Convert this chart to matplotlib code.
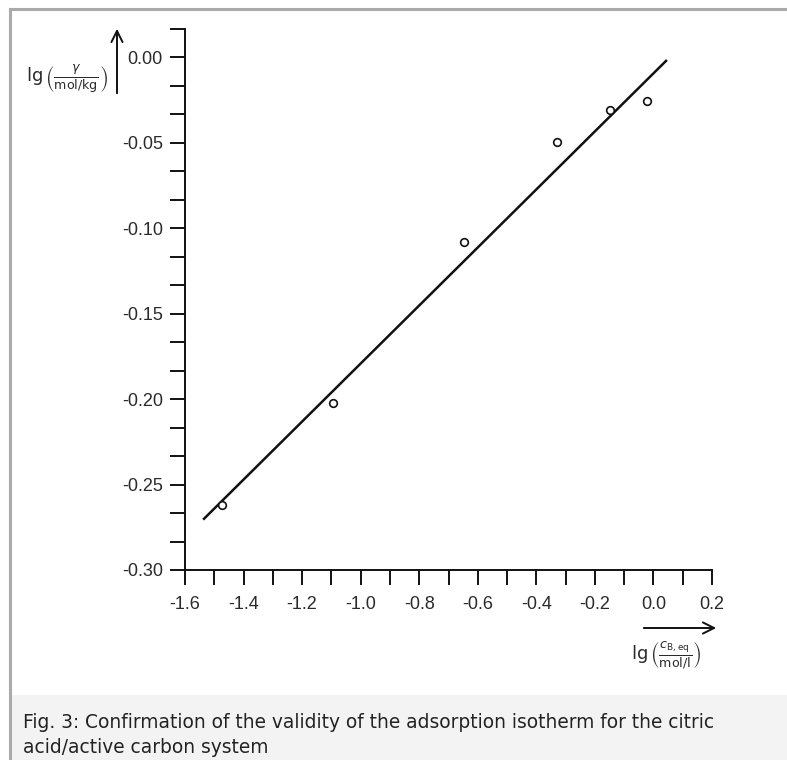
import numpy as np
import matplotlib.pyplot as plt
from matplotlib.patches import Rectangle, FancyArrowPatch
from matplotlib.lines import Line2D

# 数据
x_pts = [-1.475, -1.094, -0.647, -0.330, -0.148, -0.021]
y_pts = [-0.262, -0.202, -0.108, -0.0495, -0.031, -0.0255]
x_fit = [-1.535, 0.043]
y_fit = [-0.270, -0.002]

x_major = np.round(np.arange(-1.6, 0.21, 0.2), 1) + 0.0
x_minor = np.round(np.arange(-1.5, 0.2, 0.2), 1)
y_major = np.round(np.arange(-0.30, 0.001, 0.05), 2) + 0.0
y_minor = [v for v in np.arange(-0.30, 0.02, 0.05 / 3) if min(abs(v - y_major)) > 1e-6]

caption_lines = ["Fig. 3: Confirmation of the validity of the adsorption isotherm for the citric",
                 "acid/active carbon system"]


def fmt(v, n):
    s = f'{v:.{n}f}'
    return s.replace('-0.0', '0.0') if abs(v) < 1e-9 else s


W, H = 787, 760
fig = plt.figure(figsize=(W / 100, H / 100), dpi=100)
fig.patch.set_facecolor('white')

# 外框与图注背景
fig.patches.append(Rectangle((12 / W, 0), 1, 65 / H, transform=fig.transFigure,
                             facecolor='#f3f3f3', edgecolor='none', zorder=0))
fig.lines.append(Line2D([10 / W, 10 / W], [0, 1 - 9 / H], transform=fig.transFigure,
                        color='#aaaaaa', lw=2.2))
fig.lines.append(Line2D([10 / W, 1], [1 - 9 / H, 1 - 9 / H], transform=fig.transFigure,
                        color='#aaaaaa', lw=2.2))

ax = fig.add_axes([185 / W, 1 - 570 / H, (712 - 185) / W, (570 - 29) / H])
ax.set_xlim(-1.6, 0.2)
ax.set_ylim(-0.30, 0.05 / 3)

ax.plot(x_fit, y_fit, color='#111111', lw=1.8, clip_on=False)
ax.plot(x_pts, y_pts, 'o', ms=5.5, mfc='white', mec='#111111', mew=1.2, clip_on=False)

for s in ['top', 'right']:
    ax.spines[s].set_visible(False)
for s in ['left', 'bottom']:
    ax.spines[s].set_linewidth(1.4)
    ax.spines[s].set_color('#111111')

tick_font = {'family': ['Liberation Sans', 'DejaVu Sans'], 'size': 13}
ax.set_xticks(x_major)
ax.set_xticks(x_minor, minor=True)
ax.set_xticklabels([fmt(v, 1) for v in x_major], fontdict=tick_font, color='#2a2a2a')
ax.set_yticks(y_major)
ax.set_yticks(y_minor, minor=True)
ax.set_yticklabels([fmt(v, 2) for v in y_major], fontdict=tick_font, color='#2a2a2a')
ax.tick_params(axis='both', which='both', direction='out', length=11, width=1.4, color='#111111')
ax.tick_params(axis='x', which='major', pad=8)
ax.tick_params(axis='y', which='major', pad=5)

# 坐标轴标题与箭头
fig.text(67 / W, 1 - 79 / H, r'$\lg\left(\frac{\gamma}{\mathrm{mol/kg}}\right)$',
         ha='center', va='center', fontsize=13, color='#2a2a2a')
fig.add_artist(FancyArrowPatch(
    (117 / W, 1 - 96 / H), (117 / W, 1 - 26 / H), transform=fig.transFigure,
    arrowstyle='->,head_length=8,head_width=4', lw=1.4, color='#111111'))

fig.text(666 / W, 1 - 656 / H, r'$\lg\left(\frac{c_{\mathrm{B,eq}}}{\mathrm{mol/l}}\right)$',
         ha='center', va='center', fontsize=13, color='#2a2a2a')
fig.add_artist(FancyArrowPatch(
    (641 / W, 1 - 628 / H), (719 / W, 1 - 628 / H), transform=fig.transFigure,
    arrowstyle='->,head_length=8,head_width=4', lw=1.4, color='#111111'))

# 图注
for i, line in enumerate(caption_lines):
    fig.text(23 / W, 1 - (728 + 25 * i) / H, line, ha='left', va='baseline', fontsize=13.4,
             family='DejaVu Sans', color='#222222')

fig.savefig('out.png', dpi=100)
